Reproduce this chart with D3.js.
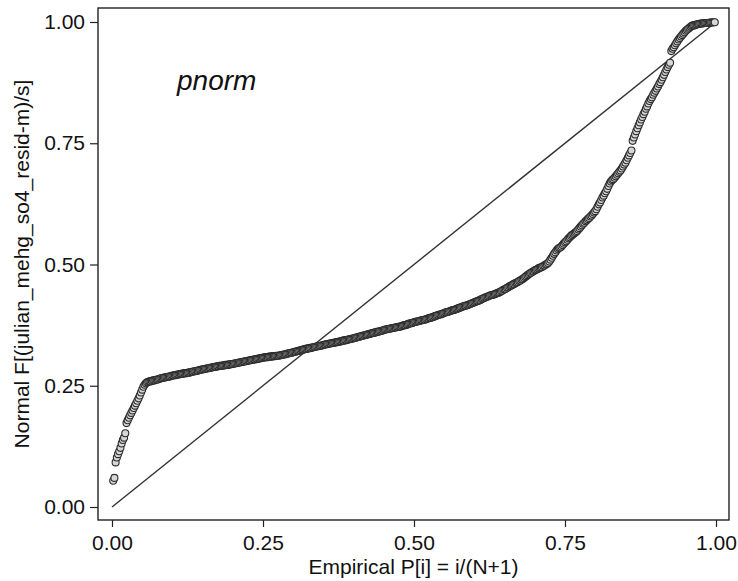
<!DOCTYPE html>
<html>
<head>
<meta charset="utf-8">
<script src="https://cdn.jsdelivr.net/npm/d3@7"></script>
<style>
  body { margin: 0; background: #fff; }
  svg { display: block; font-family: "Liberation Sans", Arial, sans-serif; }
</style>
</head>
<body>
<svg id="chart" width="738" height="581"></svg>
<script>
// Normal F values at ranks i = 1..N (N = 499)
const normF = [
  .054,.060,.092,.102,.109,.115,.122,.131,.138,.143,
  .152,.173,.179,.184,.189,.194,.199,.204,.209,.214,
  .219,.224,.230,.236,.242,.248,.252,.255,.257,.258,
  .259,.259,.260,.261,.261,.262,.263,.263,.264,.265,
  .266,.266,.267,.267,.268,.268,.269,.269,.270,.271,
  .271,.272,.272,.273,.273,.274,.274,.275,.275,.276,
  .276,.276,.277,.277,.278,.279,.279,.280,.280,.281,
  .281,.282,.283,.283,.284,.284,.285,.285,.286,.286,
  .287,.287,.288,.288,.289,.289,.290,.290,.291,.291,
  .291,.292,.292,.293,.293,.293,.294,.294,.295,.295,
  .296,.296,.297,.297,.298,.298,.299,.299,.300,.300,
  .301,.301,.302,.302,.303,.303,.304,.304,.305,.305,
  .306,.306,.307,.307,.308,.308,.309,.309,.309,.310,
  .310,.310,.311,.311,.311,.312,.312,.312,.313,.313,
  .314,.314,.315,.315,.316,.317,.317,.318,.318,.319,
  .320,.320,.321,.322,.322,.323,.324,.324,.325,.326,
  .326,.327,.327,.328,.328,.329,.330,.330,.331,.331,
  .332,.332,.333,.333,.334,.335,.335,.336,.336,.337,
  .337,.338,.338,.339,.339,.340,.340,.341,.341,.342,
  .343,.343,.344,.344,.345,.346,.346,.347,.347,.348,
  .349,.349,.350,.351,.351,.352,.353,.353,.354,.355,
  .355,.356,.357,.357,.358,.359,.359,.360,.361,.361,
  .362,.363,.363,.364,.365,.366,.366,.367,.367,.368,
  .368,.369,.369,.370,.370,.371,.371,.372,.372,.373,
  .374,.375,.375,.376,.377,.378,.379,.379,.380,.381,
  .382,.382,.383,.383,.384,.385,.385,.386,.386,.387,
  .388,.389,.390,.390,.391,.392,.393,.394,.395,.396,
  .397,.397,.398,.399,.400,.401,.402,.402,.403,.404,
  .405,.406,.406,.407,.408,.409,.410,.411,.412,.413,
  .414,.415,.415,.416,.417,.418,.419,.420,.421,.422,
  .423,.424,.425,.426,.427,.429,.430,.431,.432,.433,
  .434,.435,.436,.437,.437,.438,.439,.440,.441,.442,
  .443,.445,.446,.448,.449,.450,.452,.453,.455,.456,
  .457,.459,.460,.462,.463,.464,.466,.467,.469,.470,
  .472,.474,.476,.478,.480,.482,.483,.485,.486,.488,
  .489,.490,.492,.493,.494,.495,.497,.498,.500,.501,
  .503,.506,.510,.514,.518,.522,.525,.529,.532,.534,
  .535,.537,.540,.543,.546,.548,.551,.554,.556,.559,
  .561,.563,.565,.567,.569,.572,.575,.578,.581,.584,
  .586,.589,.591,.594,.596,.599,.601,.604,.607,.610,
  .614,.619,.624,.628,.633,.638,.642,.647,.651,.656,
  .662,.667,.671,.674,.676,.679,.682,.685,.688,.691,
  .694,.698,.702,.706,.710,.715,.720,.725,.730,.735,
  .755,.762,.768,.775,.781,.787,.793,.799,.804,.810,
  .815,.821,.826,.832,.837,.841,.845,.850,.854,.858,
  .863,.867,.872,.876,.881,.886,.891,.897,.902,.907,
  .912,.916,.940,.945,.948,.952,.956,.960,.964,.967,
  .970,.973,.976,.979,.982,.984,.986,.988,.990,.992,
  .993,.993,.994,.995,.996,.996,.997,.997,.997,.998,
  .998,.998,.998,.998,.999,.999,.999,.9995,.9995
];
// empirical P[i] = i/(N+1)
const empP = normF.map((f, i) => (i + 1) / (normF.length + 1));

const xTicks = [0, 0.25, 0.5, 0.75, 1];
const yTicks = [0, 0.25, 0.5, 0.75, 1];
const refLine = [[0, 0], [1, 1]];

const xTitle = 'Empirical P[i] = i/(N+1)';
const yTitle = 'Normal F[(julian_mehg_so4_resid-m)/s]';
const note = 'pnorm';

let svg = d3.select('#chart');
let plot = {left: 98, top: 8, right: 729, bottom: 520};
let xscale = d3.scaleLinear().domain([0, 1]).range([112, 716]);
let yscale = d3.scaleLinear().domain([0, 1]).range([507, 22]);
let fmt = d3.format('.2f');

svg.append('rect')
    .attr('width', 738).attr('height', 581)
    .attr('fill', '#fff');

// reference line
svg.append('path')
    .datum(refLine)
    .attr('fill', 'none')
    .attr('stroke', '#333')
    .attr('stroke-width', 1.4)
    .attr('d', d3.line().x(d => xscale(d[0])).y(d => yscale(d[1])));

// markers
svg.append('g').selectAll('circle')
    .data(normF)
    .enter().append('circle')
    .attr('cx', (d, i) => xscale(empP[i]))
    .attr('cy', d => yscale(d))
    .attr('r', 3.5)
    .attr('fill', '#d6d6d6')
    .attr('stroke', '#2c2c2c')
    .attr('stroke-width', 1.1);

// frame
svg.append('rect')
    .attr('x', plot.left).attr('y', plot.top)
    .attr('width', plot.right - plot.left)
    .attr('height', plot.bottom - plot.top)
    .attr('fill', 'none')
    .attr('stroke', '#222')
    .attr('stroke-width', 1.4);

let yaxis = d3.axisLeft(yscale).tickValues(yTicks).tickFormat(fmt)
    .tickSize(8).tickSizeOuter(0).tickPadding(5);
let xaxis = d3.axisBottom(xscale).tickValues(xTicks).tickFormat(fmt)
    .tickSize(7).tickSizeOuter(0).tickPadding(8);

let gy = svg.append('g').attr('transform', 'translate(' + plot.left + ',0)').call(yaxis);
let gx = svg.append('g').attr('transform', 'translate(0,' + plot.bottom + ')').call(xaxis);
[gx, gy].forEach(g => {
    g.select('.domain').remove();
    g.selectAll('line').attr('stroke', '#222').attr('stroke-width', 1.2);
    g.selectAll('text')
        .attr('fill', '#111')
        .style('font-family', '"Liberation Sans", Arial, sans-serif')
        .style('font-size', '21px');
});

// axis titles
svg.append('text')
    .attr('x', (plot.left + plot.right) / 2)
    .attr('y', 574)
    .attr('text-anchor', 'middle')
    .attr('fill', '#111')
    .style('font-size', '21px')
    .text(xTitle);

svg.append('text')
    .attr('transform', 'translate(29,' + ((plot.top + plot.bottom) / 2) + ') rotate(-90)')
    .attr('text-anchor', 'middle')
    .attr('fill', '#111')
    .style('font-size', '21px')
    .text(yTitle);

svg.append('text')
    .attr('x', 177)
    .attr('y', 90)
    .attr('fill', '#111')
    .style('font-size', '28px')
    .style('font-style', 'italic')
    .text(note);
</script>
</body>
</html>
